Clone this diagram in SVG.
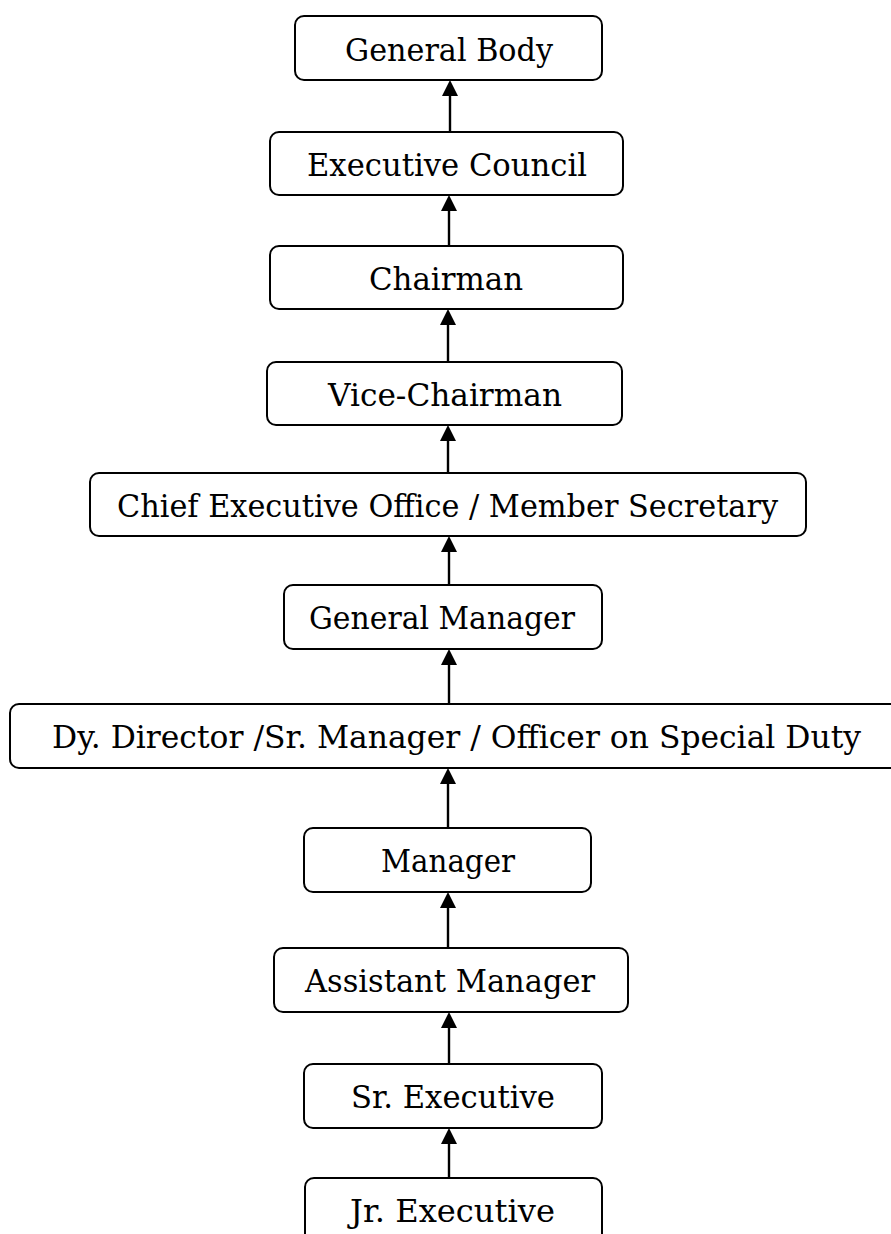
<svg xmlns="http://www.w3.org/2000/svg" width="891" height="1234" viewBox="0 0 891 1234">
<style>
.box{fill:#fff;stroke:#000;stroke-width:2}
.lbl{font-family:"DejaVu Serif","Liberation Serif",serif;font-size:32px;fill:#000}
.con{stroke:#000;stroke-width:2.4;fill:none}
</style>
<defs>
<marker id="ah" viewBox="0 0 16 16" refX="0" refY="8" markerWidth="16" markerHeight="16" markerUnits="userSpaceOnUse" orient="auto">
<path d="M0,0 L16,8 L0,16 z" fill="#000"/>
</marker>
</defs>
<rect width="891" height="1234" fill="#fff"/>
<g id="connectors">
<line class="con" x1="450" y1="132" x2="450" y2="96" marker-end="url(#ah)"/>
<line class="con" x1="449" y1="246" x2="449" y2="211" marker-end="url(#ah)"/>
<line class="con" x1="448" y1="362" x2="448" y2="325" marker-end="url(#ah)"/>
<line class="con" x1="448" y1="473" x2="448" y2="441" marker-end="url(#ah)"/>
<line class="con" x1="449" y1="585" x2="449" y2="552" marker-end="url(#ah)"/>
<line class="con" x1="449" y1="704" x2="449" y2="665" marker-end="url(#ah)"/>
<line class="con" x1="448" y1="828" x2="448" y2="784" marker-end="url(#ah)"/>
<line class="con" x1="448" y1="948" x2="448" y2="908" marker-end="url(#ah)"/>
<line class="con" x1="449" y1="1064" x2="449" y2="1028" marker-end="url(#ah)"/>
<line class="con" x1="449" y1="1178" x2="449" y2="1144" marker-end="url(#ah)"/>
</g>
<g id="general-body">
<rect class="box" x="295" y="16" width="307" height="64" rx="9"/>
<text class="lbl" x="345" y="61" textLength="208" lengthAdjust="spacingAndGlyphs">General Body</text>
</g>
<g id="executive-council">
<rect class="box" x="270" y="132" width="353" height="63" rx="9"/>
<text class="lbl" x="307" y="175.5" textLength="280" lengthAdjust="spacingAndGlyphs">Executive Council</text>
</g>
<g id="chairman">
<rect class="box" x="270" y="246" width="353" height="63" rx="9"/>
<text class="lbl" x="369" y="289.5" textLength="154" lengthAdjust="spacingAndGlyphs">Chairman</text>
</g>
<g id="vice-chairman">
<rect class="box" x="267" y="362" width="355" height="63" rx="9"/>
<text class="lbl" x="328" y="405.5" textLength="234" lengthAdjust="spacingAndGlyphs">Vice-Chairman</text>
</g>
<g id="ceo">
<rect class="box" x="90" y="473" width="716" height="63" rx="9"/>
<text class="lbl" x="117" y="516.5" textLength="661" lengthAdjust="spacingAndGlyphs">Chief Executive Office / Member Secretary</text>
</g>
<g id="general-manager">
<rect class="box" x="284" y="585" width="318" height="64" rx="9"/>
<text class="lbl" x="309" y="629" textLength="266" lengthAdjust="spacingAndGlyphs">General Manager</text>
</g>
<g id="dy-director">
<rect class="box" x="10" y="704" width="894" height="64" rx="9"/>
<text class="lbl" x="52" y="748" textLength="809" lengthAdjust="spacingAndGlyphs">Dy. Director /Sr. Manager / Officer on Special Duty</text>
</g>
<g id="manager">
<rect class="box" x="304" y="828" width="287" height="64" rx="9"/>
<text class="lbl" x="381" y="872" textLength="134" lengthAdjust="spacingAndGlyphs">Manager</text>
</g>
<g id="assistant-manager">
<rect class="box" x="274" y="948" width="354" height="64" rx="9"/>
<text class="lbl" x="305" y="992" textLength="290" lengthAdjust="spacingAndGlyphs">Assistant Manager</text>
</g>
<g id="sr-executive">
<rect class="box" x="304" y="1064" width="298" height="64" rx="9"/>
<text class="lbl" x="351" y="1108" textLength="204" lengthAdjust="spacingAndGlyphs">Sr. Executive</text>
</g>
<g id="jr-executive">
<rect class="box" x="305" y="1178" width="297" height="64" rx="9"/>
<text class="lbl" x="350" y="1222" textLength="205" lengthAdjust="spacingAndGlyphs">Jr. Executive</text>
</g>
</svg>
